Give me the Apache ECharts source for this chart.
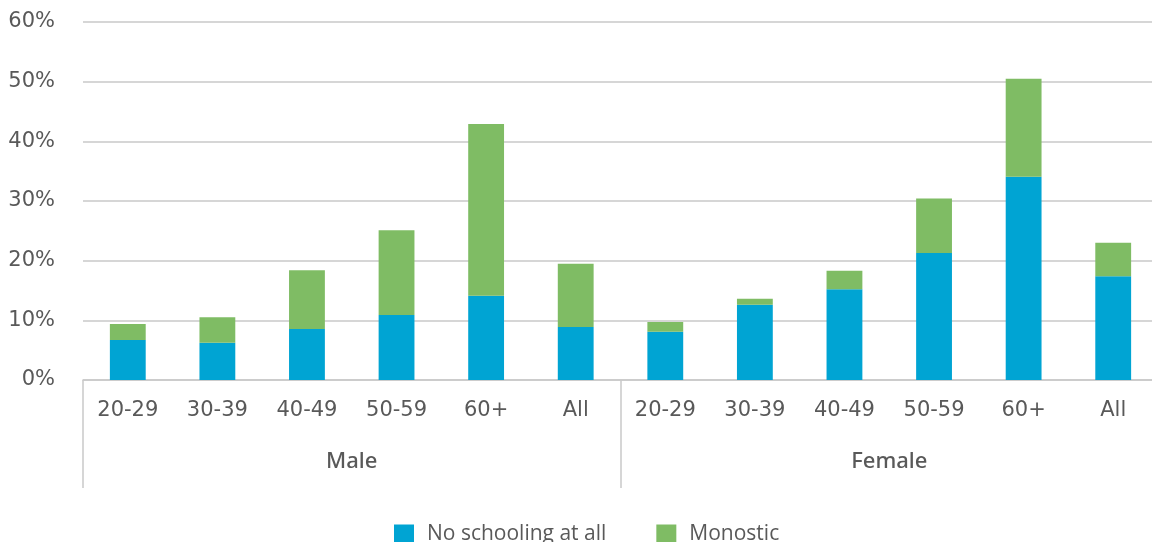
<!DOCTYPE html>
<html>
<head>
<meta charset="utf-8">
<script src="https://cdn.jsdelivr.net/npm/echarts@6/dist/echarts.min.js"></script>
<style>
  html, body { margin: 0; padding: 0; background: #fff; overflow: hidden; }
  /* the plot area continues a few pixels past the right edge of the window */
  #chart { width: 1160px; height: 542px; }
</style>
</head>
<body>
<div id="chart"></div>
<script>
// Age bands, repeated for each sex
const ageGroups = ['20-29', '30-39', '40-49', '50-59', '60+', 'All',
                   '20-29', '30-39', '40-49', '50-59', '60+', 'All'];
const sexGroups = ['Male', 'Female'];

// Share of adults (%) by schooling level
const noSchooling = [6.7, 6.25, 8.55, 10.9, 14.1, 8.9,
                     8.1, 12.6, 15.2, 21.3, 34.05, 17.4];
const monostic    = [2.7, 4.25, 9.85, 14.2, 28.8, 10.6,
                     1.6, 1.0, 3.1, 9.1, 16.45, 5.6];

const yTicks = { min: 0, max: 60, interval: 10 };

const textColor = '#595959';
const lineColor = '#c9c9c9';
const font = '"DejaVu Sans", sans-serif';

const chart = echarts.init(document.getElementById('chart'));
chart.setOption({
  animation: false,
  grid: { left: 83, right: 2, top: 22, bottom: 162, containLabel: false },
  legend: {
    top: 519,
    left: 389,
    itemWidth: 20,
    itemHeight: 20,
    itemGap: 50,
    icon: 'rect',
    textStyle: { color: textColor, fontSize: 21, fontFamily: '"Open Sans", sans-serif', padding: [0, 0, 0, 8] },
    data: ['No schooling at all', 'Monostic']
  },
  xAxis: [
    {
      type: 'category',
      data: ageGroups,
      position: 'bottom',
      axisLine: { show: true, lineStyle: { color: lineColor, width: 1.5 } },
      axisTick: { show: false },
      axisLabel: { color: textColor, fontSize: 21, fontFamily: font, margin: 20, interval: 0 }
    },
    {
      type: 'category',
      data: sexGroups,
      position: 'bottom',
      boundaryGap: true,
      axisLine: { show: false },
      axisTick: { show: true, length: 108, alignWithLabel: false, interval: 0,
                  lineStyle: { color: lineColor, width: 1.5 } },
      axisLabel: { color: textColor, fontSize: 22, fontWeight: 500,
                   fontFamily: '"Noto Sans", sans-serif', margin: 71 }
    }
  ],
  yAxis: {
    type: 'value',
    min: yTicks.min,
    max: yTicks.max,
    interval: yTicks.interval,
    axisLine: { show: false },
    axisTick: { show: false },
    splitLine: { lineStyle: { color: lineColor, width: 1.5 } },
    axisLabel: { color: textColor, fontSize: 21, fontFamily: font, margin: 28,
                 formatter: '{value}%' }
  },
  series: [
    {
      name: 'No schooling at all',
      type: 'bar',
      stack: 'total',
      xAxisIndex: 0,
      barWidth: '40%',
      itemStyle: { color: '#00A4D3' },
      data: noSchooling
    },
    {
      name: 'Monostic',
      type: 'bar',
      stack: 'total',
      xAxisIndex: 0,
      barWidth: '40%',
      itemStyle: { color: '#7FBC64' },
      data: monostic
    }
  ]
});
</script>
</body>
</html>
